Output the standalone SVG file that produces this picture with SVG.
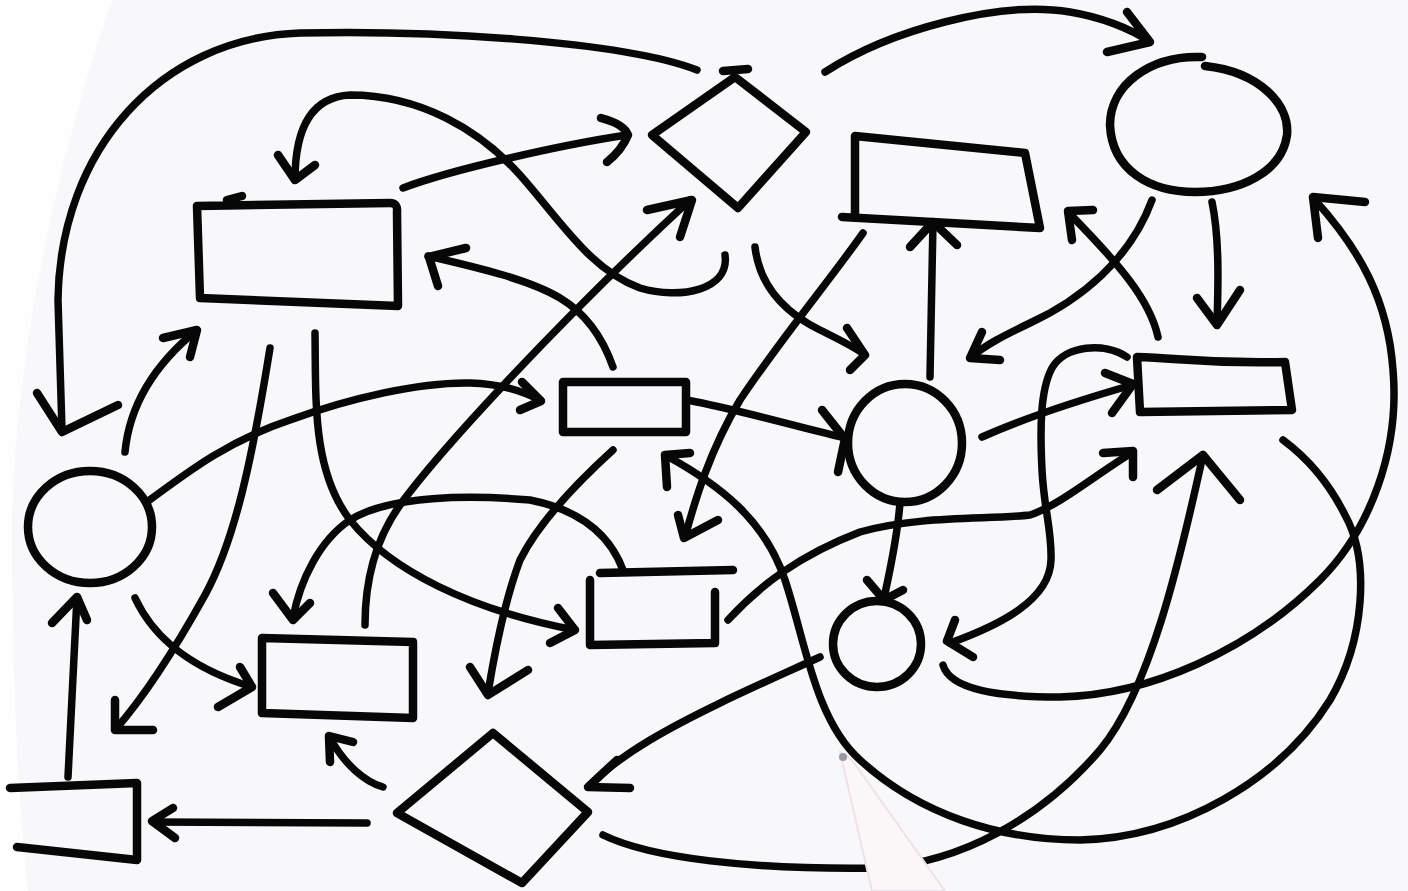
<svg xmlns="http://www.w3.org/2000/svg" width="1408" height="891" viewBox="0 0 1408 891">
<style>
.n{fill:none;stroke:#070707;stroke-width:8.5;stroke-linecap:round;stroke-linejoin:round}
.c{fill:none;stroke:#070707;stroke-width:7.5;stroke-linecap:round;stroke-linejoin:round}
.h{fill:none;stroke:#070707;stroke-width:8.5;stroke-linecap:round;stroke-linejoin:round}
</style>
<rect x="0" y="0" width="1408" height="891" fill="#f8f8fb"/>
<path d="M0,0 L112,0 C60,150 15,350 12,520 C12,700 20,820 28,891 L0,891 Z" fill="#fefefe"/>
<g id="connectors">
<path class="c" d="M697,70 C620,40 420,30 300,33 C160,38 60,150 58,300 L62,430"/>
<path class="h" d="M37,393 L62,432 L118,405"/>
<path class="c" d="M825,72 C890,30 1000,0 1070,12 C1100,17 1130,28 1150,42"/>
<path class="h" d="M1127,12 L1150,42 L1107,52"/>
<path class="c" d="M725,255 C730,290 680,300 640,288 C590,270 560,220 520,175 C480,130 420,95 350,95 C310,97 295,130 295,180"/>
<path class="h" d="M278,155 L295,180 L315,165"/>
<path class="c" d="M403,188 C450,170 560,145 627,135"/>
<path class="h" d="M601,118 Q624,124 628,135 Q622,150 607,162"/>
<path class="c" d="M613,367 C600,330 580,310 560,298 C530,280 480,268 428,256"/>
<path class="h" d="M466,248 L429,257 L438,286"/>
<path class="c" d="M125,452 C130,400 160,360 197,330"/>
<path class="h" d="M163,338 L197,330 L190,357"/>
<path class="c" d="M270,348 C252,460 235,540 205,595 C180,640 150,690 115,730"/>
<path class="h" d="M115,700 L115,730 L153,730"/>
<path class="c" d="M315,333 C316,400 312,470 350,520 C390,570 470,610 575,630"/>
<path class="h" d="M558,608 L575,630 L550,643"/>
<path class="c" d="M147,502 C190,470 230,440 290,420 C350,398 420,382 470,383 C500,384 520,390 540,400"/>
<path class="h" d="M522,382 L541,401 L520,410"/>
<path class="c" d="M365,625 C365,580 375,540 400,505 C440,450 560,320 690,200"/>
<path class="h" d="M647,210 L692,200 L680,237"/>
<path class="c" d="M755,247 C760,290 790,315 820,330 C840,340 855,347 865,355"/>
<path class="h" d="M847,328 L865,355 L850,370"/>
<path class="c" d="M863,233 C830,280 780,340 740,400 C710,450 695,500 685,537"/>
<path class="h" d="M678,515 L684,538 L718,520"/>
<path class="c" d="M930,377 L933,222"/>
<path class="h" d="M910,247 L933,222 L957,245"/>
<path class="c" d="M1158,337 C1150,300 1120,265 1068,212"/>
<path class="h" d="M1093,210 L1068,211 L1072,240"/>
<path class="c" d="M1152,200 C1130,260 1080,300 1030,323 C1005,335 985,345 970,358"/>
<path class="h" d="M982,332 L970,358 L1000,360"/>
<path class="c" d="M1212,202 C1220,240 1218,290 1217,325"/>
<path class="h" d="M1197,298 L1217,325 L1240,290"/>
<path class="c" d="M943,665 C950,690 1000,697 1060,697 C1150,695 1250,650 1320,580 C1370,530 1400,450 1393,370 C1388,300 1360,250 1315,200"/>
<path class="h" d="M1365,202 L1313,197 L1318,238"/>
<path class="c" d="M665,455 C720,485 765,520 785,580 C805,640 815,720 860,760 C920,815 1000,840 1080,840 C1180,838 1280,780 1330,700 C1365,640 1370,560 1345,515 C1330,485 1310,460 1283,440"/>
<path class="h" d="M690,453 L665,455 L667,487"/>
<path class="c" d="M982,437 C1020,420 1080,400 1132,385"/>
<path class="h" d="M1105,373 L1133,384 L1112,413"/>
<path class="c" d="M1127,357 C1105,342 1065,345 1052,368 C1040,390 1040,430 1042,470 C1044,510 1052,530 1051,560 C1050,600 1000,625 950,643"/>
<path class="h" d="M955,620 L947,641 L973,657"/>
<path class="c" d="M728,620 C760,585 800,555 860,532 C920,515 990,520 1030,515 C1060,505 1095,475 1133,452"/>
<path class="h" d="M1103,453 L1133,451 L1133,477"/>
<path class="c" d="M603,835 C650,858 750,870 880,868 C960,862 1040,820 1100,750 C1150,690 1180,560 1203,455"/>
<path class="h" d="M1157,490 L1203,455 L1240,500"/>
<path class="c" d="M900,503 C897,540 890,570 884,598"/>
<path class="h" d="M867,580 L884,600 L903,590"/>
<path class="c" d="M820,657 C770,680 700,710 650,740 C625,755 605,770 590,785"/>
<path class="h" d="M617,760 L588,787 L630,788"/>
<path class="c" d="M613,450 C580,480 540,520 520,560 C505,600 495,650 488,693"/>
<path class="h" d="M470,667 L488,695 L528,670"/>
<path class="c" d="M623,570 C610,535 580,510 530,500 C470,495 390,495 350,520 C320,540 300,580 293,618"/>
<path class="h" d="M273,593 L293,620 L310,603"/>
<path class="c" d="M135,598 C150,630 180,665 252,687"/>
<path class="h" d="M240,667 L252,687 L218,707"/>
<path class="c" d="M68,777 L77,597"/>
<path class="h" d="M52,623 L77,597 L87,620"/>
<path class="c" d="M367,823 L153,822"/>
<path class="h" d="M173,808 L152,821 L175,838"/>
<path class="c" d="M383,787 C365,782 345,765 330,738"/>
<path class="h" d="M353,742 L329,736 L330,762"/>
<path class="c" d="M687,400 C740,410 790,425 845,438"/>
<path class="h" d="M822,410 L845,439 L838,472"/>
</g>
<g id="nodeA"><path class="n" d="M197,206 L390,203 Q398,203 397,212 L398,306 L200,298 Z M227,200 L242,196"/></g>
<g id="nodeB"><path class="n" d="M735,77 L806,132 L738,208 L652,135 Z M723,71 L748,69"/></g>
<g id="nodeC"><path class="n" d="M1040,228 L1025,153 L855,136 L855,217 M842,217 L1040,228"/></g>
<g id="nodeD"><path class="n" d="M1205,66 C1260,72 1290,105 1287,135 C1282,172 1240,192 1195,192 C1150,192 1112,170 1110,125 C1110,85 1150,55 1202,57"/></g>
<g id="nodeE"><ellipse class="n" cx="90" cy="527" rx="62" ry="56"/></g>
<g id="nodeF"><path class="n" d="M563,382 L686,382 L686,432 L563,432 Z"/></g>
<g id="nodeG"><ellipse class="n" cx="905" cy="443" rx="57" ry="59"/></g>
<g id="nodeH"><path class="n" d="M1137,357 C1180,358 1205,364 1285,362 L1292,410 L1140,412 Z"/></g>
<g id="nodeI"><path class="n" d="M590,580 L590,645 L715,643 L715,592 M600,573 L733,570"/></g>
<g id="nodeJ"><ellipse class="n" cx="877" cy="644" rx="44" ry="43"/></g>
<g id="nodeK"><path class="n" d="M262,638 L413,642 L413,718 L262,713 Z"/></g>
<g id="nodeL"><path class="n" d="M10,788 L137,783 L137,860 L17,847"/></g>
<g id="nodeM"><path class="n" d="M493,733 L588,812 L522,883 L397,813 Z"/></g>
<g id="pen">
<polygon points="840,752 852,760 945,891 872,891" fill="#fbf7f9" stroke="#eee2e8" stroke-width="2"/>
<circle cx="843" cy="757" r="4" fill="#9a9aa0"/>
</g>
</svg>
